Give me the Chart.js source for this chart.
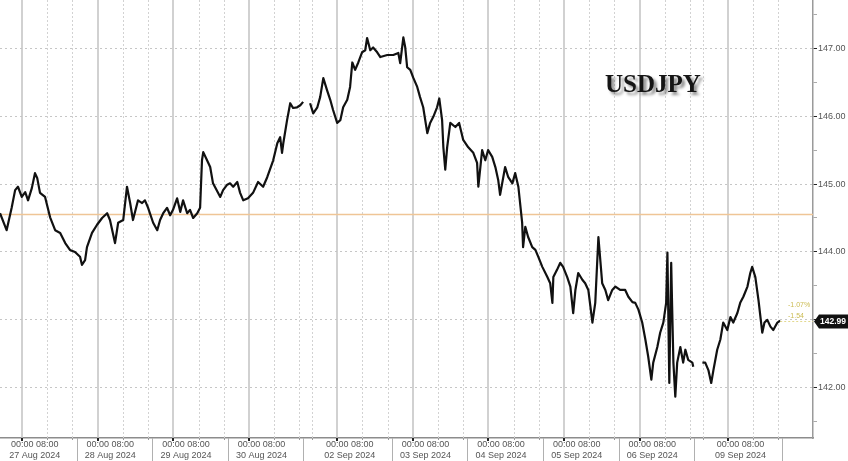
<!DOCTYPE html>
<html>
<head>
<meta charset="utf-8">
<script src="https://cdn.jsdelivr.net/npm/chart.js@4.4.1/dist/chart.umd.min.js"></script>
<style>
  html, body { margin: 0; padding: 0; background: #fff; }
  #wrap { width: 848px; height: 461px; position: relative; }
</style>
</head>
<body>
<div id="wrap"><canvas id="fxChart"></canvas></div>
<script>
// x values are trading hours counted from 27 Aug 2024 00:00 (weekends squeezed out)
const dayLabels = ['27 Aug 2024', '28 Aug 2024', '29 Aug 2024', '30 Aug 2024', '02 Sep 2024',
                   '03 Sep 2024', '04 Sep 2024', '05 Sep 2024', '06 Sep 2024', '09 Sep 2024']
const dayStarts = [0, 24, 48, 72, 100, 124, 148, 172, 196, 224]
const yTicks = [141.5, 142, 142.5, 143, 143.5, 144, 144.5, 145, 145.5, 146, 146.5, 147, 147.5]

const times = [
  -7.0, -4.9, -3.3, -2.2, -1.3, -0.1, 1.0, 1.9, 3.1, 4.1,
  4.8, 5.7, 7.3, 8.9, 10.5, 12.1, 13.7, 15.2, 16.8, 18.4,
  19.0, 20.0, 20.6, 22.2, 23.8, 25.4, 27.0, 27.9, 29.5, 30.5,
  32.1, 33.3, 34.3, 35.2, 36.8, 38.1, 39.0, 40.0, 41.6, 42.9,
  43.8, 44.8, 46.0, 47.0, 47.9, 49.2, 50.2, 51.1, 52.4, 53.3,
  54.3, 55.6, 56.5, 57.1, 57.5, 58.7, 59.7, 60.6, 62.9, 63.8,
  65.1, 66.0, 67.0, 68.3, 69.2, 70.2, 71.7, 73.3, 74.9, 76.5,
  77.8, 79.7, 81.0, 81.9, 82.5, 82.9, 84.1, 85.1, 86.0, 87.3,
  88.3, 89.2, 90.3, 91.4, 92.4, 93.7, 94.6, 95.6, 96.8, 97.8,
  98.7, 100.0, 101.0, 101.9, 103.2, 104.1, 104.8, 105.7, 106.7, 107.9,
  108.9, 109.5, 110.5, 111.4, 112.7, 113.7, 115.9, 117.8, 119.4, 120.0,
  121.0, 121.6, 122.2, 123.2, 124.1, 125.4, 126.3, 127.3, 128.6, 129.5,
  130.5, 131.7, 132.4, 133.3, 133.7, 134.3, 134.9, 135.9, 137.5, 138.7,
  140.0, 141.6, 143.2, 144.4, 144.8, 146.0, 147.0, 147.9, 149.2, 150.2,
  151.1, 151.7, 153.3, 154.3, 155.6, 156.5, 157.5, 158.7, 159.0, 159.7,
  160.6, 161.9, 162.9, 163.8, 165.1, 166.7, 167.6, 168.3, 168.6, 169.8,
  170.8, 171.7, 173.0, 174.0, 174.9, 175.6, 176.5, 177.8, 178.7, 179.7,
  181.0, 181.9, 182.9, 184.1, 185.1, 186.0, 187.3, 188.3, 189.8, 191.4,
  192.4, 193.7, 194.6, 195.6, 196.8, 197.8, 198.7, 199.7, 200.3, 201.6,
  202.5, 203.5, 204.4, 204.8, 205.4, 206.0, 206.3, 206.7, 207.3, 207.9,
  208.9, 209.8, 210.5, 211.4, 212.7, 213.0, 214.5, 215.9, 216.8, 217.8,
  218.7, 219.4, 220.6, 221.6, 222.5, 223.8, 224.8, 225.7, 227.0, 227.9,
  228.9, 230.2, 231.1, 231.7, 232.7, 233.7, 234.9, 235.6, 236.5, 237.5,
  238.4, 239.7, 240.6
]
const prices = [
  144.57, 144.32, 144.65, 144.91, 144.96, 144.81, 144.88, 144.76, 144.94, 145.16,
  145.09, 144.87, 144.81, 144.51, 144.32, 144.28, 144.13, 144.03, 144.00, 143.93,
  143.81, 143.88, 144.07, 144.28, 144.40, 144.50, 144.57, 144.47, 144.13, 144.43,
  144.47, 144.96, 144.72, 144.47, 144.76, 144.72, 144.76, 144.65, 144.43, 144.32,
  144.47, 144.57, 144.65, 144.54, 144.62, 144.79, 144.59, 144.76, 144.57, 144.62,
  144.50, 144.57, 144.65, 145.35, 145.47, 145.35, 145.25, 145.01, 144.81, 144.91,
  144.99, 145.01, 144.96, 145.03, 144.87, 144.76, 144.79, 144.87, 145.03, 144.96,
  145.10, 145.35, 145.60, 145.69, 145.46, 145.60, 145.94, 146.19, 146.12, 146.13,
  146.16, 146.21, null, 146.19, 146.04, 146.13, 146.28, 146.56, 146.38, 146.24,
  146.09, 145.90, 145.94, 146.13, 146.24, 146.43, 146.79, 146.68, 146.79, 146.94,
  146.97, 147.15, 146.97, 147.01, 146.94, 146.87, 146.90, 146.90, 146.93, 146.78,
  147.16, 147.01, 146.72, 146.68, 146.57, 146.43, 146.28, 146.13, 145.75, 145.90,
  145.99, 146.13, 146.26, 145.94, 145.54, 145.21, 145.54, 145.90, 145.84, 145.90,
  145.65, 145.54, 145.46, 145.31, 144.96, 145.50, 145.35, 145.50, 145.40, 145.25,
  145.06, 144.84, 145.25, 145.10, 145.01, 145.16, 144.96, 144.43, 144.07, 144.37,
  144.22, 144.07, 144.03, 143.93, 143.78, 143.63, 143.54, 143.25, 143.63, 143.74,
  143.84, 143.78, 143.63, 143.49, 143.10, 143.44, 143.69, 143.59, 143.54, 143.44,
  142.96, 143.25, 144.22, 143.54, 143.44, 143.29, 143.44, 143.49, 143.44, 143.44,
  143.34, 143.26, 143.25, 143.15, 142.96, 142.71, 142.46, 142.12, 142.37, 142.60,
  142.81, 142.96, 143.25, 143.99, 142.07, 143.84, 143.19, 142.37, 141.87, 142.37,
  142.60, 142.37, 142.56, 142.41, 142.37, 142.31, null, 142.37, 142.37, 142.26,
  142.07, 142.26, 142.56, 142.71, 142.96, 142.85, 143.04, 142.96, 143.10, 143.25,
  143.34, 143.49, 143.69, 143.78, 143.63, 143.29, 142.81, 142.96, 143.00, 142.90,
  142.85, 142.96, 142.99
]

const refLevel = 144.55     // orange reference line
const changeAbs = '-1.54'
const changePct = '-1.07%'
const xMin = -7, xMax = 251
const yMin = 141.26, yMax = 147.71

// 08:00 and 16:00 of every day, plus Sunday 16:00 before a Monday open
function sessionLines(){
    const out = []
    dayStarts.forEach((d, i) => {
        if (i > 0 && d - dayStarts[i - 1] > 24) out.push(d - 8)
        out.push(d + 8, d + 16)
    })
    return out
}

function vline(ctx, px, y1, y2){
    ctx.beginPath()
    ctx.moveTo(px, y1)
    ctx.lineTo(px, y2)
    ctx.stroke()
}

const sessionGrid = {
    id: 'sessionGrid',
    beforeDatasetsDraw(chart){
        const {ctx, chartArea: a, scales: {x}} = chart
        ctx.save()
        ctx.lineWidth = 1
        ctx.strokeStyle = '#d2d2d2'
        ctx.setLineDash([2, 2])
        sessionLines().forEach(v => vline(ctx, Math.round(x.getPixelForValue(v)) + 0.5, a.top, a.bottom))
        ctx.setLineDash([])
        ctx.lineWidth = 1.5
        ctx.strokeStyle = '#c2c2c2'
        dayStarts.forEach(v => vline(ctx, Math.round(x.getPixelForValue(v)), a.top, a.bottom))
        ctx.restore()
    },
    afterDraw(chart){
        const {ctx, chartArea: a, scales: {x, y}} = chart
        ctx.save()
        // boxes round the date labels + little tick marks on the time axis
        ctx.strokeStyle = '#b0b0b0'
        ctx.lineWidth = 1
        dayStarts.forEach(v => vline(ctx, Math.round(x.getPixelForValue(v + 17.3)) + 0.5, a.bottom, chart.height))
        ctx.strokeStyle = '#222'
        ctx.lineWidth = 2
        dayStarts.forEach(v => vline(ctx, Math.round(x.getPixelForValue(v)), a.bottom, a.bottom + 3))
        ctx.strokeStyle = '#999'
        ctx.lineWidth = 1
        sessionLines().forEach(v => vline(ctx, Math.round(x.getPixelForValue(v)) + 0.5, a.bottom, a.bottom + 2))

        // last price: dotted guide, change figures and the black tag
        const last = prices[prices.length - 1]
        const ly = Math.round(y.getPixelForValue(last)) + 0.5
        const lx = x.getPixelForValue(times[times.length - 1])
        ctx.strokeStyle = '#e3d98f'
        ctx.setLineDash([2, 2])
        ctx.beginPath(); ctx.moveTo(lx, ly); ctx.lineTo(a.right, ly); ctx.stroke()
        ctx.setLineDash([])
        ctx.fillStyle = '#cbbb52'
        ctx.font = '7px "Liberation Sans", Arial'
        ctx.textBaseline = 'middle'
        ctx.fillText(changePct, a.right - 25, ly - 16)
        ctx.fillText(changeAbs, a.right - 25, ly - 5)

        ctx.fillStyle = '#111'
        ctx.beginPath()
        ctx.moveTo(a.right + 1, ly)
        ctx.lineTo(a.right + 6, ly - 7)
        ctx.lineTo(chart.width, ly - 7)
        ctx.lineTo(chart.width, ly + 7)
        ctx.lineTo(a.right + 6, ly + 7)
        ctx.closePath()
        ctx.fill()
        ctx.fillStyle = '#fff'
        ctx.font = 'bold 8.5px "Liberation Sans", Arial'
        ctx.fillText(last.toFixed(2), a.right + 7, ly + 0.5)

        // ticker title with its drop shadow
        ctx.font = 'bold 25px "Liberation Serif", "DejaVu Serif", serif'
        ctx.textBaseline = 'alphabetic'
        ctx.shadowColor = 'rgba(0,0,0,0.45)'
        ctx.shadowOffsetX = 3
        ctx.shadowOffsetY = 3
        ctx.shadowBlur = 3
        ctx.fillStyle = '#151515'
        ctx.fillText('USDJPY', 605, 92)
        ctx.restore()
    }
}

const isMajor = c => c.tick && Number.isInteger(c.tick.value)

new Chart('fxChart', {
    type: 'line',
    data: {
        datasets: [{
            data: times.map((t, i) => ({x: t, y: prices[i]})),
            borderColor: '#111',
            borderWidth: 2.2,
            borderJoinStyle: 'round',
            pointRadius: 0,
            spanGaps: false,
            tension: 0,
            order: 0
        }, {
            data: [{x: xMin, y: refLevel}, {x: xMax, y: refLevel}],
            borderColor: '#efc596',
            borderWidth: 1.5,
            pointRadius: 0,
            order: 1
        }]
    },
    options: {
        responsive: true,
        maintainAspectRatio: false,
        animation: false,
        events: [],
        layout: {padding: 0},
        scales: {
            x: {
                type: 'linear',
                min: xMin,
                max: xMax,
                afterBuildTicks: s => { s.ticks = dayStarts.map(d => ({value: d + 4})) },
                afterFit: s => { s.height = 23; s.paddingLeft = 0; s.paddingRight = 0 },
                grid: {display: false, drawTicks: false},
                border: {display: true, color: '#8c8c8c', width: 1.5},
                ticks: {
                    autoSkip: false,
                    maxRotation: 0,
                    padding: 1,
                    color: '#555',
                    font: {family: '"Liberation Sans", Arial', size: 9, lineHeight: 1.25},
                    callback: (v, i) => ['00:00 08:00', dayLabels[i]]
                }
            },
            y: {
                position: 'right',
                min: yMin,
                max: yMax,
                afterBuildTicks: s => { s.ticks = yTicks.map(v => ({value: v})) },
                afterFit: s => { s.width = 35; s.paddingTop = 0; s.paddingBottom = 0 },
                grid: {
                    color: c => isMajor(c) ? '#c6c6c6' : 'rgba(0,0,0,0)',
                    lineWidth: 1,
                    tickLength: 4,
                    tickColor: c => isMajor(c) ? '#222' : '#aaa'
                },
                border: {display: true, color: '#9a9a9a', width: 1.5, dash: [2, 3]},
                ticks: {
                    padding: 1,
                    color: '#555',
                    font: {family: '"Liberation Sans", Arial', size: 9},
                    callback: v => Number.isInteger(v) ? v.toFixed(2) : ''
                }
            }
        },
        plugins: {
            legend: {display: false},
            tooltip: {enabled: false}
        }
    },
    plugins: [sessionGrid]
})
</script>
</body>
</html>
